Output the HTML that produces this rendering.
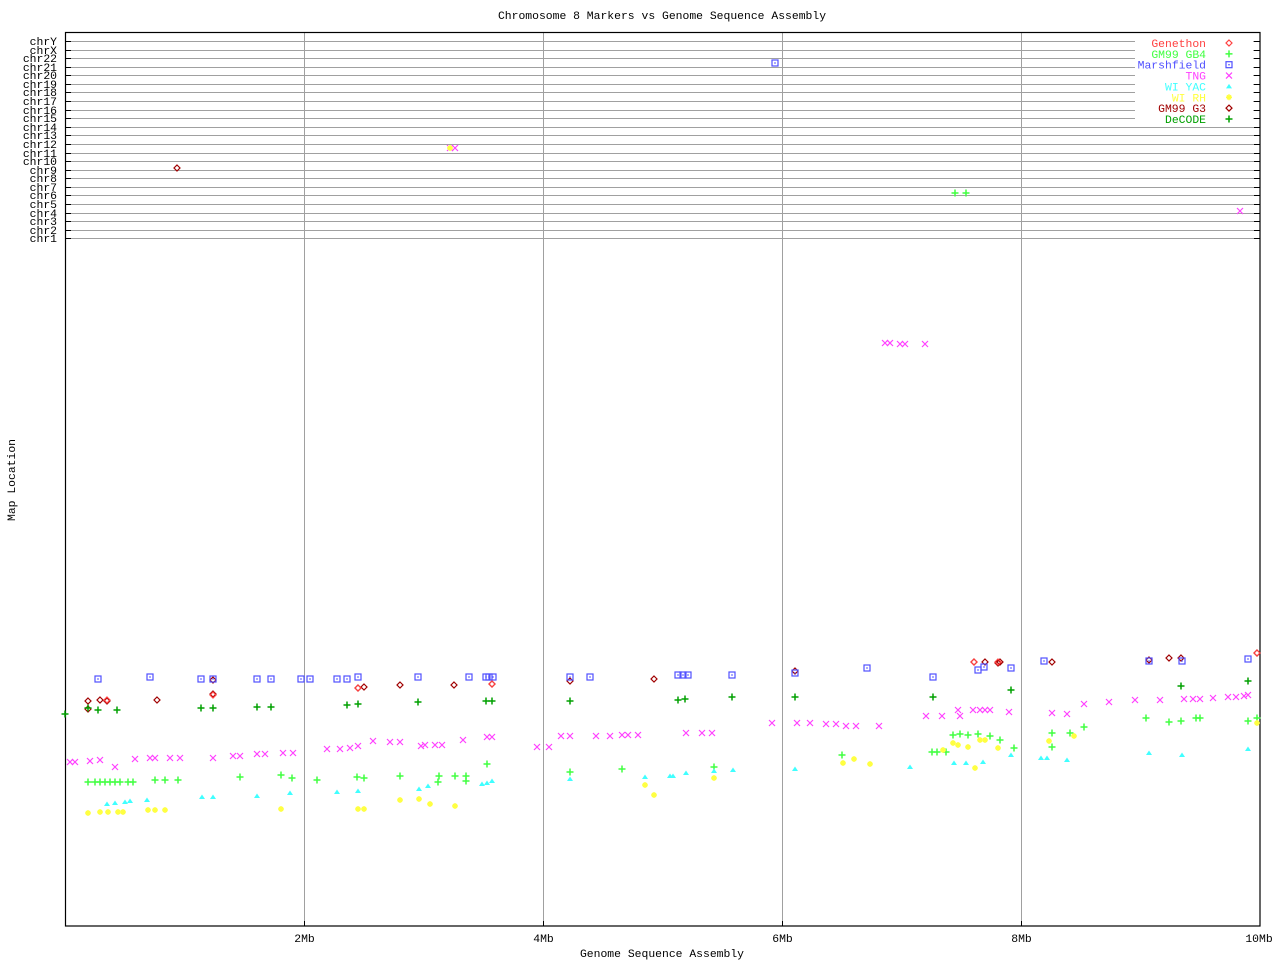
<!DOCTYPE html>
<html><head><meta charset="utf-8"><style>
html,body{margin:0;padding:0;background:#fff;}
svg{display:block;}
text{font-family:"Liberation Mono","DejaVu Sans Mono",monospace;font-size:11.4px;fill:#000;}
</style></head><body>
<svg id="s" width="1280" height="960" xmlns="http://www.w3.org/2000/svg">
<rect x="0" y="0" width="1280" height="960" fill="#fff"/>
<g id="grid"></g>
<g id="pts"></g>
<g id="leg"></g>
<text x="662" y="19" text-anchor="middle">Chromosome 8 Markers vs Genome Sequence Assembly</text>
<text x="662" y="957" text-anchor="middle">Genome Sequence Assembly</text>
<text transform="translate(15,480) rotate(-90)" text-anchor="middle">Map Location</text>
</svg>
<script>
var NS="http://www.w3.org/2000/svg";
function el(p,t,a,txt){var e=document.createElementNS(NS,t);for(var k in a)e.setAttribute(k,a[k]);if(txt!=null)e.textContent=txt;p.appendChild(e);return e;}
var g=document.getElementById('grid');
var chr=["chrY","chrX","chr22","chr21","chr20","chr19","chr18","chr17","chr16","chr15","chr14","chr13","chr12","chr11","chr10","chr9","chr8","chr7","chr6","chr5","chr4","chr3","chr2","chr1"];
for(var i=0;i<24;i++){var y=Math.round(41+i*(238.3-41)/23)+0.5;
 el(g,'line',{x1:65,x2:1260,y1:y,y2:y,stroke:'#a0a0a0','stroke-width':1});
 el(g,'line',{x1:65,x2:71,y1:y,y2:y,stroke:'#000','stroke-width':1});
 el(g,'line',{x1:1254,x2:1260,y1:y,y2:y,stroke:'#000','stroke-width':1});
 el(g,'text',{x:57,y:y+3.5,'text-anchor':'end'},chr[i]);}
var gx=[304.5,543.5,782.5,1021.5];
gx.forEach(function(x,i){el(g,'line',{x1:x,x2:x,y1:33,y2:926,stroke:'#a0a0a0'});el(g,'line',{x1:x,x2:x,y1:921,y2:926,stroke:'#000'});el(g,'text',{x:x,y:942,'text-anchor':'middle'},(2*(i+1))+'Mb');});
el(g,'text',{x:1259,y:942,'text-anchor':'middle'},'10Mb');
el(g,'rect',{x:65.5,y:32.5,width:1194.5,height:893.5,fill:'none',stroke:'#000','stroke-width':1.2});
el(g,'rect',{x:1135,y:35,width:118,height:90,fill:'#fff'});
var P=document.getElementById('pts');
function mk(p,type,x,y,c){
 if(type=='dia'){el(p,'polygon',{points:(x)+','+(y-3)+' '+(x+3)+','+y+' '+x+','+(y+3)+' '+(x-3)+','+y,fill:'none',stroke:c,'stroke-width':1.2});}
 else if(type=='plus'){el(p,'path',{d:'M'+(x-3.5)+' '+y+'H'+(x+3.5)+'M'+x+' '+(y-3.5)+'V'+(y+3.5),stroke:c,'stroke-width':1.5});}
 else if(type=='sq'){el(p,'rect',{x:x-3,y:y-3,width:6,height:6,fill:'none',stroke:c,'stroke-width':1.2});el(p,'rect',{x:x-0.7,y:y-0.7,width:1.4,height:1.4,fill:c});}
 else if(type=='x'){el(p,'path',{d:'M'+(x-3)+' '+(y-3)+'L'+(x+3)+' '+(y+3)+'M'+(x+3)+' '+(y-3)+'L'+(x-3)+' '+(y+3),stroke:c,'stroke-width':1.2});}
 else if(type=='tri'){el(p,'polygon',{points:(x-3)+','+(y+2)+' '+(x+3)+','+(y+2)+' '+x+','+(y-2.5),fill:c});}
 else if(type=='star'){el(p,'path',{d:'M'+(x-3)+' '+y+'H'+(x+3)+'M'+x+' '+(y-3)+'V'+(y+3)+'M'+(x-2)+' '+(y-2)+'L'+(x+2)+' '+(y+2)+'M'+(x+2)+' '+(y-2)+'L'+(x-2)+' '+(y+2),stroke:c,'stroke-width':1.5});}
}
var S=[
['dia','#a00000',[[88,701],[88,709],[100,700],[107,701],[157,700],[213,680],[213,694],[358,688],[364,687],[400,685],[454,685],[492,684],[570,681],[654,679],[795,671],[974,662],[985,662],[998,663],[1000,662],[1052,662],[1149,660],[1169,658],[1181,658],[1257,653],[177,168]]],
['sq','#5050ff',[[98,679],[150,677],[201,679],[213,679],[257,679],[271,679],[301,679],[310,679],[337,679],[347,679],[358,677],[418,677],[469,677],[486,677],[489,677],[493,677],[570,677],[590,677],[678,675],[683,675],[688,675],[732,675],[775,63],[867,668],[978,670],[984,667],[1011,668],[1044,661],[1149,661],[1182,661],[1248,659],[933,677],[795,673]]],
['dia','#ff4040',[[213,695],[107,700],[358,688],[492,684],[974,662],[998,662],[1257,653]]],
['plus','#00a000',[[65,714],[88,708],[98,710],[117,710],[201,708],[213,708],[257,707],[271,707],[347,705],[358,704],[418,702],[486,701],[492,701],[570,701],[678,700],[685,699],[732,697],[795,697],[933,697],[1011,690],[1181,686],[1248,681]]],
['x','#ff40ff',[[70,762],[75,762],[90,761],[100,760],[115,767],[135,759],[150,758],[155,758],[170,758],[180,758],[213,758],[233,756],[240,756],[257,754],[265,754],[283,753],[293,753],[327,749],[340,749],[350,748],[358,746],[373,741],[390,742],[400,742],[421,746],[425,745],[435,745],[442,745],[463,740],[487,737],[492,737],[537,747],[549,747],[561,736],[570,736],[596,736],[610,736],[622,735],[628,735],[638,735],[686,733],[702,733],[712,733],[772,723],[797,723],[810,723],[826,724],[836,724],[846,726],[856,726],[879,726],[885,343],[890,343],[900,344],[905,344],[925,344],[926,716],[942,716],[958,710],[960,716],[973,710],[980,710],[985,710],[990,710],[1009,712],[1052,713],[1067,714],[1084,704],[1109,702],[1135,700],[1160,700],[1184,699],[1193,699],[1200,699],[1213,698],[1228,697],[1236,697],[1244,696],[1248,695],[450,148],[455,148],[1240,211]]],
['plus','#40ff40',[[88,782],[95,782],[100,782],[105,782],[110,782],[115,782],[120,782],[128,782],[133,782],[155,780],[165,780],[178,780],[240,777],[281,775],[292,778],[317,780],[357,777],[364,778],[400,776],[439,776],[438,782],[455,776],[466,776],[466,781],[487,764],[570,772],[622,769],[714,767],[842,755],[932,752],[937,752],[946,752],[953,735],[960,734],[968,735],[978,734],[990,736],[1000,740],[1014,748],[1052,733],[1052,747],[1070,733],[1084,727],[1146,718],[1169,722],[1181,721],[1196,718],[1200,718],[1248,721],[1257,718],[955,193],[966,193]]],
['tri','#40ffff',[[107,804],[115,803],[125,802],[130,801],[147,800],[202,797],[213,797],[257,796],[290,793],[337,792],[358,791],[419,789],[428,786],[482,784],[487,783],[492,781],[570,779],[645,777],[670,776],[673,776],[686,773],[714,771],[733,770],[795,769],[910,767],[954,763],[966,763],[983,762],[1011,755],[1041,758],[1047,758],[1067,760],[1149,753],[1182,755],[1248,749]]],
['star','#ffff40',[[88,813],[100,812],[108,812],[118,812],[123,812],[148,810],[155,810],[165,810],[281,809],[358,809],[364,809],[400,800],[419,799],[430,804],[455,806],[645,785],[654,795],[714,778],[843,763],[854,759],[870,764],[943,750],[953,743],[958,745],[968,747],[980,740],[985,740],[998,748],[975,768],[1049,741],[1074,736],[1257,723],[450,148]]]
];
S.forEach(function(s){s[2].forEach(function(p){mk(P,s[0],p[0],p[1],s[1]);});});
var L=document.getElementById('leg');
var lg=[['Genethon','#ff4040','dia'],['GM99 GB4','#40ff40','plus'],['Marshfield','#5050ff','sq'],['TNG','#ff40ff','x'],['WI YAC','#40ffff','tri'],['WI RH','#ffff40','star'],['GM99 G3','#a00000','dia'],['DeCODE','#00a000','plus']];
lg.forEach(function(r,i){var y=43+i*10.85;el(L,'text',{x:1206,y:y+4,'text-anchor':'end',style:'fill:'+r[1]},r[0]);mk(L,r[2],1229,y,r[1]);});
</script>
</body></html>
